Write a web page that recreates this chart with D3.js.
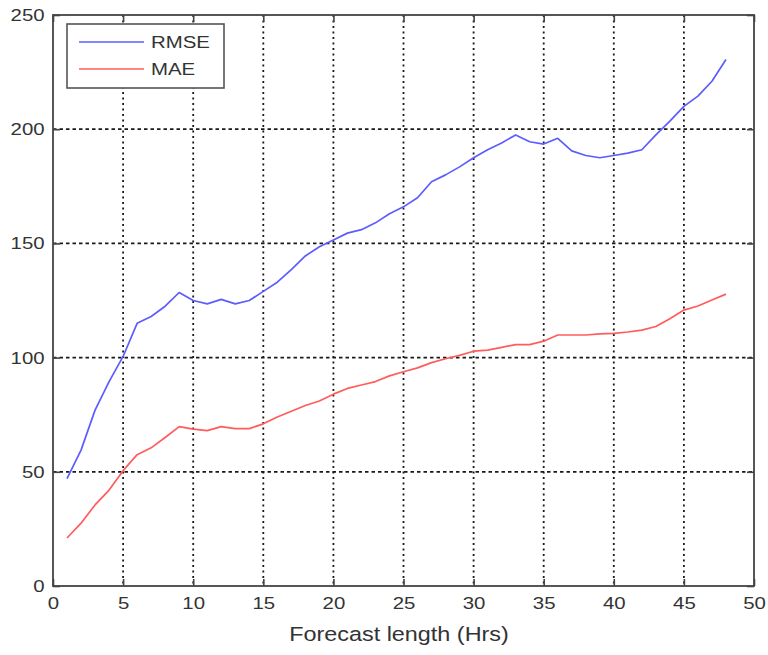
<!DOCTYPE html>
<html>
<head>
<meta charset="utf-8">
<script src="https://cdn.jsdelivr.net/npm/d3@7"></script>
<style>
  body { margin: 0; background: #fff; }
  text { font-family: "Liberation Sans", Arial, sans-serif; fill: #333; }
</style>
</head>
<body>
<svg id="svg"></svg>
<script>
// forecast length in hours
var hours = d3.range(1, 49);

var rmse = [47, 59.5, 77, 89.5, 100.5, 115, 118, 122.5, 128.5, 125, 123.5, 125.5,
  123.5, 125, 129, 133, 138.5, 144.5, 148.5, 151.5, 154.5, 156, 159, 163,
  166, 170, 177, 180, 183.5, 187.5, 191, 194, 197.5, 194.5, 193.5, 196,
  190.5, 188.5, 187.5, 188.5, 189.5, 191, 197.5, 203.5, 210, 214.5, 221, 230.5];

var mae = [21, 27.5, 35.5, 42, 50.5, 57.5, 60.5, 65, 69.8, 68.7, 68, 69.8,
  68.9, 68.9, 71, 74, 76.5, 79, 81, 84, 86.5, 88, 89.5, 92,
  93.8, 95.5, 97.8, 99.5, 101, 102.8, 103.3, 104.5, 105.7, 105.7, 107.2, 109.9,
  109.9, 109.9, 110.4, 110.6, 111.2, 112, 113.6, 117, 120.8, 122.6, 125.2, 127.8];

var seriesNames = ['RMSE', 'MAE'];
var xTicks = d3.range(0, 51, 5);
var yTicks = d3.range(0, 251, 50);

/* basic sizes */
var width = 768, height = 655;
var plot = { left: 53, right: 754, top: 15, bottom: 586 };
var colors = ['#5c5cff', '#ff5c5c'];
var stretch = 'scale(1.2,1)';   // the source picture is a bit wide

var scaleX = d3.scaleLinear().domain([0, 50]).range([plot.left, plot.right]);
var scaleY = d3.scaleLinear().domain([0, 250]).range([plot.bottom, plot.top]);

var s = d3.select('#svg').attr('width', width).attr('height', height);

// grid
var grid = s.append('g');
grid.selectAll('line.gx')
  .data(xTicks.slice(1, -1))
  .enter()
  .append('line')
  .attr('x1', d => scaleX(d)).attr('x2', d => scaleX(d))
  .attr('y1', plot.top).attr('y2', plot.bottom)
  .attr('stroke', '#1a1a1a').attr('stroke-width', 1.8)
  .attr('stroke-dasharray', '2,3.5');
grid.selectAll('line.gy')
  .data(yTicks.slice(1, -1))
  .enter()
  .append('line')
  .attr('x1', plot.left).attr('x2', plot.right)
  .attr('y1', d => scaleY(d)).attr('y2', d => scaleY(d))
  .attr('stroke', '#1a1a1a').attr('stroke-width', 1.8)
  .attr('stroke-dasharray', '3.5,3');

// lines
var line = d3.line()
  .x((d, i) => scaleX(hours[i]))
  .y(d => scaleY(d));

[rmse, mae].forEach(function (vals, k) {
  s.append('path')
    .datum(vals)
    .attr('d', line)
    .attr('fill', 'none')
    .attr('stroke', colors[k])
    .attr('stroke-width', 1.7)
    .attr('stroke-linejoin', 'round');
});

// axes, ticks pointing inward
var axisB = d3.axisBottom(scaleX).tickValues(xTicks).tickSize(-7).tickPadding(11);
var axisL = d3.axisLeft(scaleY).tickValues(yTicks).tickSize(-7).tickPadding(7);
var axisT = d3.axisTop(scaleX).tickValues(xTicks).tickSize(-7).tickFormat('');
var axisR = d3.axisRight(scaleY).tickValues(yTicks).tickSize(-7).tickFormat('');

var gb = s.append('g').attr('transform', `translate(0,${plot.bottom})`).call(axisB);
var gl = s.append('g').attr('transform', `translate(${plot.left},0)`).call(axisL);
var gt = s.append('g').attr('transform', `translate(0,${plot.top})`).call(axisT);
var gr = s.append('g').attr('transform', `translate(${plot.right},0)`).call(axisR);

[gb, gl, gt, gr].forEach(function (g) {
  g.select('.domain').remove();
  g.selectAll('.tick line').attr('stroke', '#444').attr('stroke-width', 1.6);
  g.selectAll('text').attr('font-size', 17).style('fill', '#333')
    .attr('font-family', '"Liberation Sans", Arial, sans-serif')
    .attr('transform', stretch);
});

// frame
s.append('rect')
  .attr('x', plot.left).attr('y', plot.top)
  .attr('width', plot.right - plot.left).attr('height', plot.bottom - plot.top)
  .attr('fill', 'none').attr('stroke', '#444').attr('stroke-width', 1.8);

// x label
s.append('text')
  .attr('transform', 'translate(399,641) ' + stretch)
  .attr('text-anchor', 'middle')
  .attr('font-size', 19.5)
  .text('Forecast length (Hrs)');

// legend
var lg = s.append('g');
lg.append('rect')
  .attr('x', 67).attr('y', 24).attr('width', 157).attr('height', 64)
  .attr('fill', '#fff').attr('stroke', '#555').attr('stroke-width', 1.6);
seriesNames.forEach(function (name, i) {
  var y = 42 + i * 27;
  lg.append('line')
    .attr('x1', 79).attr('x2', 144).attr('y1', y).attr('y2', y)
    .attr('stroke', colors[i]).attr('stroke-width', 1.7);
  lg.append('text')
    .attr('transform', `translate(151,${y + 6}) ` + stretch)
    .attr('font-size', 17)
    .text(name);
});
</script>
</body>
</html>
